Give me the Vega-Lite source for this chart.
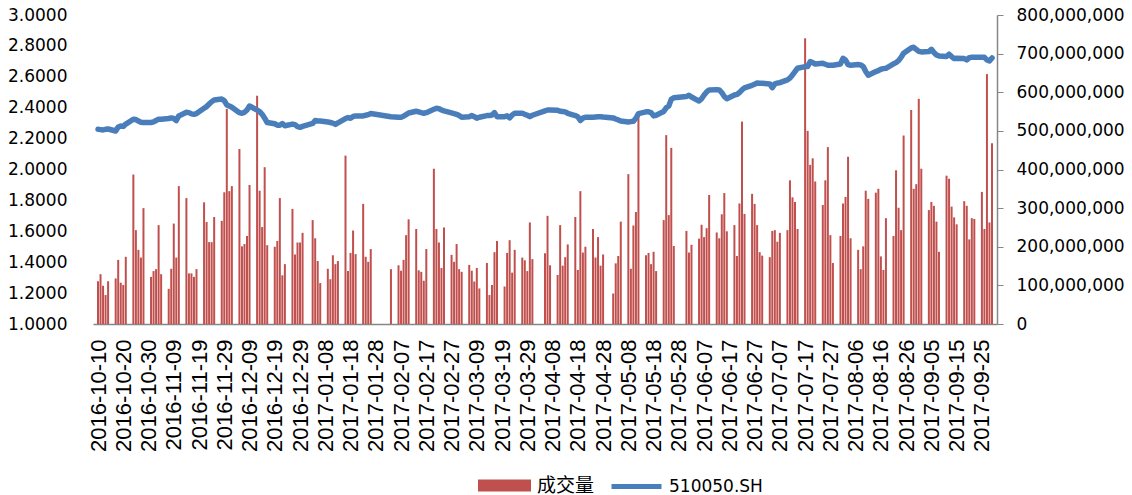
{
  "$schema": "https://vega.github.io/schema/vega-lite/v6.json",
  "autosize": "none",
  "width": 904,
  "height": 309,
  "padding": {"left": 93, "top": 15, "right": 135, "bottom": 171},
  "background": "white",
  "config": {"view": {"stroke": null}, "axis": {"grid": false}},
  "data": {"values": [
    {"date":"2016-10-10","volume":111000000,"price":2.260},
    {"date":"2016-10-11","volume":129000000,"price":2.258},
    {"date":"2016-10-12","volume":99000000,"price":2.256},
    {"date":"2016-10-13","volume":75000000,"price":2.260},
    {"date":"2016-10-14","volume":111000000,"price":2.262},
    {"date":"2016-10-17","volume":118000000,"price":2.249},
    {"date":"2016-10-18","volume":166000000,"price":2.275},
    {"date":"2016-10-19","volume":107000000,"price":2.281},
    {"date":"2016-10-20","volume":101000000,"price":2.279},
    {"date":"2016-10-21","volume":174000000,"price":2.294},
    {"date":"2016-10-24","volume":387000000,"price":2.325},
    {"date":"2016-10-25","volume":243000000,"price":2.323},
    {"date":"2016-10-26","volume":192000000,"price":2.314},
    {"date":"2016-10-27","volume":172000000,"price":2.306},
    {"date":"2016-10-28","volume":300000000,"price":2.304},
    {"date":"2016-10-31","volume":122000000,"price":2.304},
    {"date":"2016-11-01","volume":137000000,"price":2.308},
    {"date":"2016-11-02","volume":142000000,"price":2.317},
    {"date":"2016-11-03","volume":256000000,"price":2.325},
    {"date":"2016-11-04","volume":129000000,"price":2.325},
    {"date":"2016-11-07","volume":91000000,"price":2.330},
    {"date":"2016-11-08","volume":143000000,"price":2.334},
    {"date":"2016-11-09","volume":260000000,"price":2.330},
    {"date":"2016-11-10","volume":172000000,"price":2.317},
    {"date":"2016-11-11","volume":357000000,"price":2.347},
    {"date":"2016-11-14","volume":326000000,"price":2.370},
    {"date":"2016-11-15","volume":131000000,"price":2.368},
    {"date":"2016-11-16","volume":131000000,"price":2.360},
    {"date":"2016-11-17","volume":122000000,"price":2.357},
    {"date":"2016-11-18","volume":142000000,"price":2.362},
    {"date":"2016-11-21","volume":315000000,"price":2.396},
    {"date":"2016-11-22","volume":264000000,"price":2.407},
    {"date":"2016-11-23","volume":212000000,"price":2.424},
    {"date":"2016-11-24","volume":212000000,"price":2.439},
    {"date":"2016-11-25","volume":277000000,"price":2.450},
    {"date":"2016-11-28","volume":267000000,"price":2.456},
    {"date":"2016-11-29","volume":341000000,"price":2.446},
    {"date":"2016-11-30","volume":557000000,"price":2.418},
    {"date":"2016-12-01","volume":344000000,"price":2.411},
    {"date":"2016-12-02","volume":357000000,"price":2.403},
    {"date":"2016-12-05","volume":453000000,"price":2.368},
    {"date":"2016-12-06","volume":201000000,"price":2.364},
    {"date":"2016-12-07","volume":207000000,"price":2.370},
    {"date":"2016-12-08","volume":228000000,"price":2.385},
    {"date":"2016-12-09","volume":360000000,"price":2.411},
    {"date":"2016-12-12","volume":591000000,"price":2.385},
    {"date":"2016-12-13","volume":345000000,"price":2.375},
    {"date":"2016-12-14","volume":251000000,"price":2.357},
    {"date":"2016-12-15","volume":406000000,"price":2.332},
    {"date":"2016-12-16","volume":204000000,"price":2.304},
    {"date":"2016-12-19","volume":200000000,"price":2.296},
    {"date":"2016-12-20","volume":215000000,"price":2.287},
    {"date":"2016-12-21","volume":326000000,"price":2.287},
    {"date":"2016-12-22","volume":126000000,"price":2.298},
    {"date":"2016-12-23","volume":155000000,"price":2.283},
    {"date":"2016-12-26","volume":298000000,"price":2.294},
    {"date":"2016-12-27","volume":180000000,"price":2.290},
    {"date":"2016-12-28","volume":211000000,"price":2.277},
    {"date":"2016-12-29","volume":211000000,"price":2.273},
    {"date":"2016-12-30","volume":236000000,"price":2.279},
    {"date":"2017-01-03","volume":269000000,"price":2.298},
    {"date":"2017-01-04","volume":222000000,"price":2.317},
    {"date":"2017-01-05","volume":163000000,"price":2.314},
    {"date":"2017-01-06","volume":106000000,"price":2.314},
    {"date":"2017-01-09","volume":143000000,"price":2.308},
    {"date":"2017-01-10","volume":116000000,"price":2.304},
    {"date":"2017-01-11","volume":178000000,"price":2.300},
    {"date":"2017-01-12","volume":155000000,"price":2.292},
    {"date":"2017-01-13","volume":163000000,"price":2.302},
    {"date":"2017-01-16","volume":436000000,"price":2.330},
    {"date":"2017-01-17","volume":137000000,"price":2.336},
    {"date":"2017-01-18","volume":184000000,"price":2.332},
    {"date":"2017-01-19","volume":242000000,"price":2.343},
    {"date":"2017-01-20","volume":181000000,"price":2.347},
    {"date":"2017-01-23","volume":311000000,"price":2.347},
    {"date":"2017-01-24","volume":174000000,"price":2.351},
    {"date":"2017-01-25","volume":161000000,"price":2.355},
    {"date":"2017-01-26","volume":194000000,"price":2.362},
    {"date":"2017-02-03","volume":142000000,"price":2.342},
    {"date":"2017-02-06","volume":152000000,"price":2.338},
    {"date":"2017-02-07","volume":138000000,"price":2.338},
    {"date":"2017-02-08","volume":166000000,"price":2.345},
    {"date":"2017-02-09","volume":230000000,"price":2.355},
    {"date":"2017-02-10","volume":271000000,"price":2.366},
    {"date":"2017-02-13","volume":246000000,"price":2.377},
    {"date":"2017-02-14","volume":139000000,"price":2.373},
    {"date":"2017-02-15","volume":135000000,"price":2.368},
    {"date":"2017-02-16","volume":112000000,"price":2.364},
    {"date":"2017-02-17","volume":194000000,"price":2.368},
    {"date":"2017-02-20","volume":402000000,"price":2.390},
    {"date":"2017-02-21","volume":246000000,"price":2.396},
    {"date":"2017-02-22","volume":211000000,"price":2.394},
    {"date":"2017-02-23","volume":145000000,"price":2.385},
    {"date":"2017-02-24","volume":250000000,"price":2.379},
    {"date":"2017-02-27","volume":179000000,"price":2.366},
    {"date":"2017-02-28","volume":161000000,"price":2.362},
    {"date":"2017-03-01","volume":207000000,"price":2.357},
    {"date":"2017-03-02","volume":142000000,"price":2.349},
    {"date":"2017-03-03","volume":135000000,"price":2.338},
    {"date":"2017-03-06","volume":153000000,"price":2.342},
    {"date":"2017-03-07","volume":138000000,"price":2.349},
    {"date":"2017-03-08","volume":110000000,"price":2.342},
    {"date":"2017-03-09","volume":145000000,"price":2.332},
    {"date":"2017-03-10","volume":92000000,"price":2.338},
    {"date":"2017-03-13","volume":158000000,"price":2.349},
    {"date":"2017-03-14","volume":75000000,"price":2.349},
    {"date":"2017-03-15","volume":101000000,"price":2.353},
    {"date":"2017-03-16","volume":186000000,"price":2.368},
    {"date":"2017-03-17","volume":215000000,"price":2.342},
    {"date":"2017-03-20","volume":97000000,"price":2.342},
    {"date":"2017-03-21","volume":184000000,"price":2.347},
    {"date":"2017-03-22","volume":217000000,"price":2.334},
    {"date":"2017-03-23","volume":133000000,"price":2.353},
    {"date":"2017-03-24","volume":192000000,"price":2.364},
    {"date":"2017-03-27","volume":172000000,"price":2.364},
    {"date":"2017-03-28","volume":165000000,"price":2.357},
    {"date":"2017-03-29","volume":137000000,"price":2.351},
    {"date":"2017-03-30","volume":263000000,"price":2.342},
    {"date":"2017-03-31","volume":168000000,"price":2.351},
    {"date":"2017-04-05","volume":183000000,"price":2.379},
    {"date":"2017-04-06","volume":280000000,"price":2.385},
    {"date":"2017-04-07","volume":152000000,"price":2.385},
    {"date":"2017-04-10","volume":127000000,"price":2.383},
    {"date":"2017-04-11","volume":256000000,"price":2.377},
    {"date":"2017-04-12","volume":151000000,"price":2.375},
    {"date":"2017-04-13","volume":173000000,"price":2.373},
    {"date":"2017-04-14","volume":206000000,"price":2.364},
    {"date":"2017-04-17","volume":277000000,"price":2.349},
    {"date":"2017-04-18","volume":140000000,"price":2.342},
    {"date":"2017-04-19","volume":344000000,"price":2.317},
    {"date":"2017-04-20","volume":185000000,"price":2.332},
    {"date":"2017-04-21","volume":200000000,"price":2.338},
    {"date":"2017-04-24","volume":246000000,"price":2.338},
    {"date":"2017-04-25","volume":172000000,"price":2.340},
    {"date":"2017-04-26","volume":225000000,"price":2.342},
    {"date":"2017-04-27","volume":151000000,"price":2.342},
    {"date":"2017-04-28","volume":180000000,"price":2.340},
    {"date":"2017-05-02","volume":79000000,"price":2.334},
    {"date":"2017-05-03","volume":157000000,"price":2.327},
    {"date":"2017-05-04","volume":176000000,"price":2.321},
    {"date":"2017-05-05","volume":265000000,"price":2.314},
    {"date":"2017-05-08","volume":388000000,"price":2.308},
    {"date":"2017-05-09","volume":143000000,"price":2.310},
    {"date":"2017-05-10","volume":255000000,"price":2.312},
    {"date":"2017-05-11","volume":290000000,"price":2.332},
    {"date":"2017-05-12","volume":537000000,"price":2.362},
    {"date":"2017-05-15","volume":178000000,"price":2.373},
    {"date":"2017-05-16","volume":184000000,"price":2.373},
    {"date":"2017-05-17","volume":155000000,"price":2.368},
    {"date":"2017-05-18","volume":187000000,"price":2.347},
    {"date":"2017-05-19","volume":137000000,"price":2.351},
    {"date":"2017-05-22","volume":269000000,"price":2.375},
    {"date":"2017-05-23","volume":489000000,"price":2.400},
    {"date":"2017-05-24","volume":282000000,"price":2.411},
    {"date":"2017-05-25","volume":456000000,"price":2.454},
    {"date":"2017-05-26","volume":202000000,"price":2.465},
    {"date":"2017-05-31","volume":241000000,"price":2.473},
    {"date":"2017-06-01","volume":185000000,"price":2.480},
    {"date":"2017-06-02","volume":205000000,"price":2.469},
    {"date":"2017-06-05","volume":221000000,"price":2.443},
    {"date":"2017-06-06","volume":257000000,"price":2.458},
    {"date":"2017-06-07","volume":225000000,"price":2.482},
    {"date":"2017-06-08","volume":248000000,"price":2.502},
    {"date":"2017-06-09","volume":334000000,"price":2.515},
    {"date":"2017-06-12","volume":237000000,"price":2.517},
    {"date":"2017-06-13","volume":222000000,"price":2.515},
    {"date":"2017-06-14","volume":284000000,"price":2.498},
    {"date":"2017-06-15","volume":339000000,"price":2.473},
    {"date":"2017-06-16","volume":240000000,"price":2.458},
    {"date":"2017-06-19","volume":256000000,"price":2.482},
    {"date":"2017-06-20","volume":176000000,"price":2.486},
    {"date":"2017-06-21","volume":312000000,"price":2.498},
    {"date":"2017-06-22","volume":524000000,"price":2.515},
    {"date":"2017-06-23","volume":285000000,"price":2.528},
    {"date":"2017-06-26","volume":337000000,"price":2.545},
    {"date":"2017-06-27","volume":311000000,"price":2.552},
    {"date":"2017-06-28","volume":256000000,"price":2.560},
    {"date":"2017-06-29","volume":186000000,"price":2.558},
    {"date":"2017-06-30","volume":177000000,"price":2.558},
    {"date":"2017-07-03","volume":173000000,"price":2.554},
    {"date":"2017-07-04","volume":241000000,"price":2.530},
    {"date":"2017-07-05","volume":243000000,"price":2.554},
    {"date":"2017-07-06","volume":213000000,"price":2.560},
    {"date":"2017-07-07","volume":236000000,"price":2.562},
    {"date":"2017-07-10","volume":243000000,"price":2.580},
    {"date":"2017-07-11","volume":372000000,"price":2.592},
    {"date":"2017-07-12","volume":328000000,"price":2.612},
    {"date":"2017-07-13","volume":316000000,"price":2.634},
    {"date":"2017-07-14","volume":246000000,"price":2.655},
    {"date":"2017-07-17","volume":740000000,"price":2.666},
    {"date":"2017-07-18","volume":500000000,"price":2.666},
    {"date":"2017-07-19","volume":412000000,"price":2.698},
    {"date":"2017-07-20","volume":429000000,"price":2.692},
    {"date":"2017-07-21","volume":369000000,"price":2.683},
    {"date":"2017-07-24","volume":308000000,"price":2.687},
    {"date":"2017-07-25","volume":372000000,"price":2.681},
    {"date":"2017-07-26","volume":458000000,"price":2.675},
    {"date":"2017-07-27","volume":230000000,"price":2.675},
    {"date":"2017-07-28","volume":158000000,"price":2.675},
    {"date":"2017-07-31","volume":228000000,"price":2.683},
    {"date":"2017-08-01","volume":312000000,"price":2.720},
    {"date":"2017-08-02","volume":329000000,"price":2.709},
    {"date":"2017-08-03","volume":433000000,"price":2.679},
    {"date":"2017-08-04","volume":222000000,"price":2.675},
    {"date":"2017-08-07","volume":192000000,"price":2.679},
    {"date":"2017-08-08","volume":142000000,"price":2.677},
    {"date":"2017-08-09","volume":201000000,"price":2.666},
    {"date":"2017-08-10","volume":345000000,"price":2.634},
    {"date":"2017-08-11","volume":324000000,"price":2.610},
    {"date":"2017-08-14","volume":340000000,"price":2.634},
    {"date":"2017-08-15","volume":350000000,"price":2.640},
    {"date":"2017-08-16","volume":175000000,"price":2.649},
    {"date":"2017-08-17","volume":140000000,"price":2.653},
    {"date":"2017-08-18","volume":274000000,"price":2.655},
    {"date":"2017-08-21","volume":228000000,"price":2.683},
    {"date":"2017-08-22","volume":398000000,"price":2.692},
    {"date":"2017-08-23","volume":301000000,"price":2.705},
    {"date":"2017-08-24","volume":243000000,"price":2.726},
    {"date":"2017-08-25","volume":488000000,"price":2.752},
    {"date":"2017-08-28","volume":554000000,"price":2.787},
    {"date":"2017-08-29","volume":350000000,"price":2.791},
    {"date":"2017-08-30","volume":362000000,"price":2.778},
    {"date":"2017-08-31","volume":583000000,"price":2.765},
    {"date":"2017-09-01","volume":402000000,"price":2.761},
    {"date":"2017-09-04","volume":295000000,"price":2.763},
    {"date":"2017-09-05","volume":316000000,"price":2.778},
    {"date":"2017-09-06","volume":306000000,"price":2.757},
    {"date":"2017-09-07","volume":265000000,"price":2.741},
    {"date":"2017-09-08","volume":187000000,"price":2.735},
    {"date":"2017-09-11","volume":384000000,"price":2.731},
    {"date":"2017-09-12","volume":376000000,"price":2.746},
    {"date":"2017-09-13","volume":304000000,"price":2.731},
    {"date":"2017-09-14","volume":276000000,"price":2.718},
    {"date":"2017-09-15","volume":258000000,"price":2.720},
    {"date":"2017-09-18","volume":318000000,"price":2.718},
    {"date":"2017-09-19","volume":306000000,"price":2.709},
    {"date":"2017-09-20","volume":219000000,"price":2.724},
    {"date":"2017-09-21","volume":274000000,"price":2.726},
    {"date":"2017-09-22","volume":272000000,"price":2.726},
    {"date":"2017-09-25","volume":342000000,"price":2.726},
    {"date":"2017-09-26","volume":246000000,"price":2.726},
    {"date":"2017-09-27","volume":647000000,"price":2.709},
    {"date":"2017-09-28","volume":263000000,"price":2.703},
    {"date":"2017-09-29","volume":468000000,"price":2.722}
  ]},
  "encoding": {
    "x": {
      "field": "date",
      "type": "temporal",
      "scale": {
        "type": "utc",
        "domain": [
          {"year": 2016, "month": 10, "date": 10, "utc": true},
          {"year": 2017, "month": 9, "date": 29, "utc": true}
        ],
        "nice": false
      },
      "axis": {
        "title": null,
        "orient": "bottom",
        "values": [
          {"year":2016,"month":10,"date":10,"utc":true},
          {"year":2016,"month":10,"date":20,"utc":true},
          {"year":2016,"month":10,"date":30,"utc":true},
          {"year":2016,"month":11,"date":9,"utc":true},
          {"year":2016,"month":11,"date":19,"utc":true},
          {"year":2016,"month":11,"date":29,"utc":true},
          {"year":2016,"month":12,"date":9,"utc":true},
          {"year":2016,"month":12,"date":19,"utc":true},
          {"year":2016,"month":12,"date":29,"utc":true},
          {"year":2017,"month":1,"date":8,"utc":true},
          {"year":2017,"month":1,"date":18,"utc":true},
          {"year":2017,"month":1,"date":28,"utc":true},
          {"year":2017,"month":2,"date":7,"utc":true},
          {"year":2017,"month":2,"date":17,"utc":true},
          {"year":2017,"month":2,"date":27,"utc":true},
          {"year":2017,"month":3,"date":9,"utc":true},
          {"year":2017,"month":3,"date":19,"utc":true},
          {"year":2017,"month":3,"date":29,"utc":true},
          {"year":2017,"month":4,"date":8,"utc":true},
          {"year":2017,"month":4,"date":18,"utc":true},
          {"year":2017,"month":4,"date":28,"utc":true},
          {"year":2017,"month":5,"date":8,"utc":true},
          {"year":2017,"month":5,"date":18,"utc":true},
          {"year":2017,"month":5,"date":28,"utc":true},
          {"year":2017,"month":6,"date":7,"utc":true},
          {"year":2017,"month":6,"date":17,"utc":true},
          {"year":2017,"month":6,"date":27,"utc":true},
          {"year":2017,"month":7,"date":7,"utc":true},
          {"year":2017,"month":7,"date":17,"utc":true},
          {"year":2017,"month":7,"date":27,"utc":true},
          {"year":2017,"month":8,"date":6,"utc":true},
          {"year":2017,"month":8,"date":16,"utc":true},
          {"year":2017,"month":8,"date":26,"utc":true},
          {"year":2017,"month":9,"date":5,"utc":true},
          {"year":2017,"month":9,"date":15,"utc":true},
          {"year":2017,"month":9,"date":25,"utc":true}
        ],
        "labelExpr": "utcFormat(datum.value, '%Y-%m-%d')",
        "labelAngle": -90,
        "labelAlign": "right",
        "labelBaseline": "middle",
        "labelFont": "Liberation Sans Narrow, Liberation Sans",
        "labelFontSize": 22,
        "labelColor": "#000000",
        "labelPadding": 15,
        "labelOverlap": false,
        "labelBound": false,
        "ticks": false,
        "domain": true,
        "domainColor": "#868686",
        "domainWidth": 1.5,
        "grid": false
      }
    }
  },
  "layer": [
    {
      "mark": {"type": "bar", "width": 2, "clip": false},
      "encoding": {
        "y": {
          "field": "volume",
          "type": "quantitative",
          "scale": {"domain": [0, 800000000], "nice": false, "zero": true},
          "axis": {
            "title": null,
            "orient": "right",
            "values": [0, 100000000, 200000000, 300000000, 400000000, 500000000, 600000000, 700000000, 800000000],
            "format": ",.0f",
            "labelFont": "DejaVu Sans",
            "labelFontSize": 17,
            "labelColor": "#000000",
            "labelPadding": 13,
            "tickSize": 6,
            "tickColor": "#868686",
            "domain": true,
            "domainColor": "#868686",
            "domainWidth": 1.5,
            "grid": false
          }
        },
        "color": {
          "datum": "成交量",
          "type": "nominal",
          "scale": {"range": ["#C0504D"]},
          "legend": {
            "title": null,
            "orient": "none",
            "legendX": 385,
            "legendY": 444,
            "padding": 0,
            "symbolType": "M-1,-0.226H1V0.226H-1Z",
            "symbolSize": 2809,
            "symbolStrokeWidth": 0,
            "symbolOpacity": 1,
            "labelFont": "Noto Sans CJK SC",
            "labelFontSize": 19,
            "labelLimit": 400,
            "labelColor": "#000000",
            "labelOffset": 6
          }
        }
      }
    },
    {
      "mark": {"type": "line", "strokeWidth": 5.5, "strokeCap": "round", "strokeJoin": "round"},
      "encoding": {
        "y": {
          "field": "price",
          "type": "quantitative",
          "scale": {"domain": [1, 3], "nice": false, "zero": false},
          "axis": {
            "title": null,
            "orient": "left",
            "values": [1, 1.2, 1.4, 1.6, 1.8, 2, 2.2, 2.4, 2.6, 2.8, 3],
            "format": ".4f",
            "labelFont": "DejaVu Sans",
            "labelFontSize": 17,
            "labelColor": "#000000",
            "labelPadding": 26,
            "ticks": false,
            "domain": false,
            "grid": false
          }
        },
        "stroke": {
          "datum": "510050.SH",
          "type": "nominal",
          "scale": {"range": ["#4A7EBB"]},
          "legend": {
            "title": null,
            "orient": "none",
            "legendX": 516,
            "legendY": 444,
            "padding": 0,
            "symbolType": "stroke",
            "symbolSize": 2500,
            "symbolStrokeWidth": 5,
            "labelFont": "DejaVu Sans",
            "labelFontSize": 17,
            "labelLimit": 400,
            "labelColor": "#000000",
            "labelOffset": 5
          }
        }
      }
    }
  ],
  "resolve": {"scale": {"y": "independent", "color": "independent", "stroke": "independent"}}
}
